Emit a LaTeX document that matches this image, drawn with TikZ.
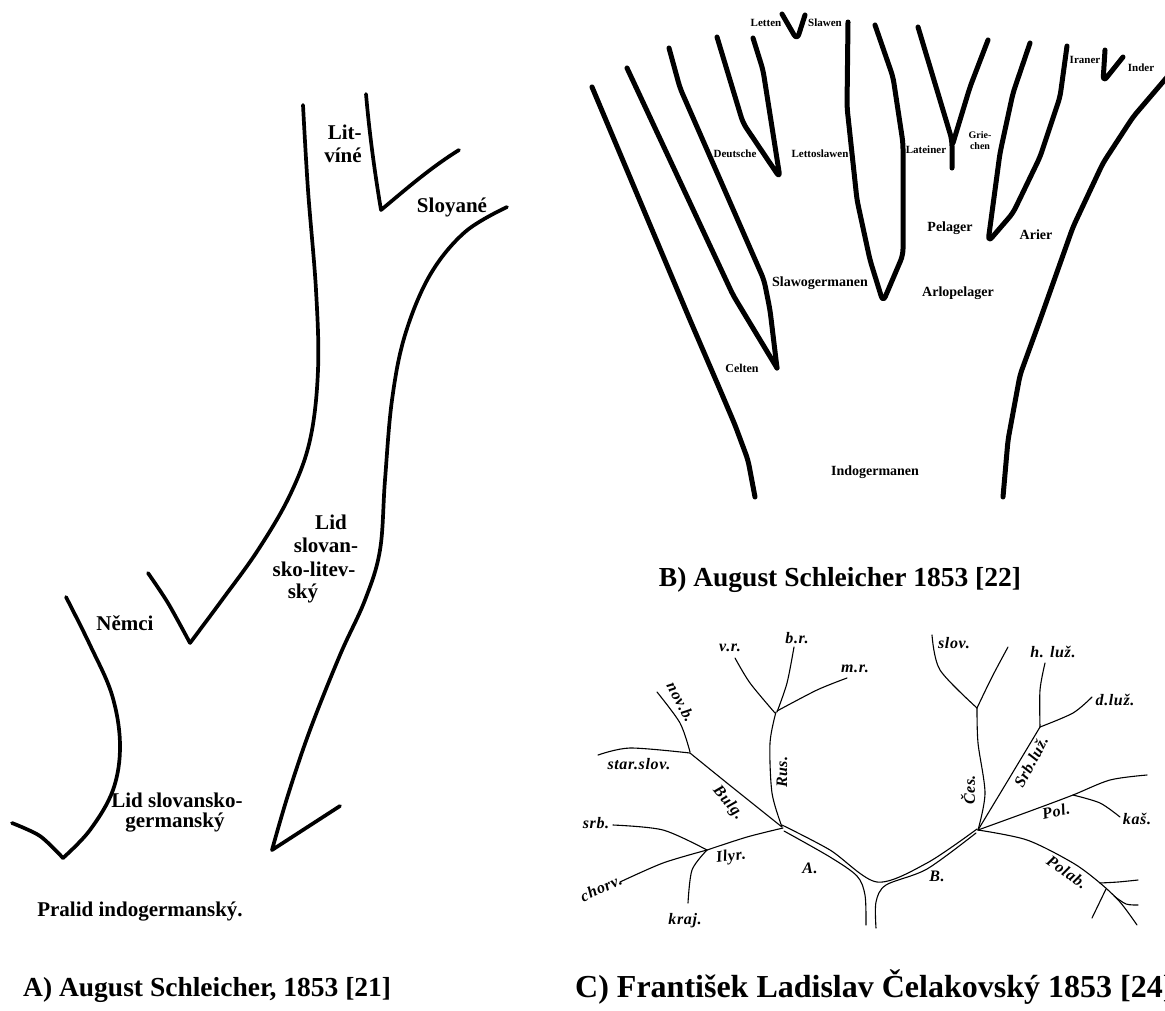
\documentclass[tikz,border=0pt]{standalone}
\usepackage{fontspec}
\setmainfont{Liberation Serif}
\begin{document}
\begin{tikzpicture}[x=1pt,y=-1pt,
  lineA/.style={line width=3.7pt,line cap=round,line join=round},
  lineB/.style={line width=5pt,line cap=round,line join=round,rounded corners=6pt},
  lineC/.style={line width=1.1pt,line cap=round,line join=round},
  labA/.style={font=\fontsize{21}{23}\selectfont\bfseries,inner sep=0pt},
  labB/.style={font=\fontsize{11}{12}\selectfont\bfseries,inner sep=0pt},
  labBb/.style={font=\fontsize{14}{15}\selectfont\bfseries,inner sep=0pt},
  labC/.style={font=\fontsize{16}{17}\selectfont\bfseries\itshape\addfontfeature{LetterSpace=4},inner sep=0pt},
  captext/.style={font=\fontsize{27.5}{30}\selectfont\bfseries,inner sep=0pt}
]
\useasboundingbox (0,0) rectangle (1165,1010);
\clip (0,0) rectangle (1165,1010);
\fill[white] (0,0) rectangle (1165,1010);

% ---------------- Panel A ----------------
\draw[lineA] plot[smooth,tension=0.6] coordinates {(303,105) (308,190) (316,290) (318,370) (310,440) (290,495) (258,550) (222,600) (190,643)};
\draw[lineA] plot[smooth] coordinates {(148,573) (168,603) (190,643)};
\draw[lineA] (366,94) .. controls (370,140) and (376,180) .. (381,210) .. controls (405,190) and (430,168) .. (459,150);
\draw[lineA] plot[smooth,tension=0.6] coordinates {(507,207) (465,232) (430,275) (405,335) (392,400) (385,480) (380,550) (365,600) (340,655) (310,730) (288,795) (272,850)} -- (340,806);
\draw[lineA] plot[smooth,tension=0.6] coordinates {(66,597) (90,645) (112,695) (120,745) (113,790) (90,830) (63,858)};
\draw[lineA] plot[smooth] coordinates {(12,823) (40,836) (63,858)};

\node[labA,align=right] (litvine) at (343,144) {Lit-\\víné};
\node[labA] (slovane) at (452,207) {Sloyané};
\node[labA] (lid1) at (331,522) {Lid};
\node[labA] (lid2) at (326,545) {slovan-};
\node[labA] (lid3) at (314,569) {sko-litev-};
\node[labA] (lid4) at (303,593) {ský};
\node[labA] (nemci) at (125,623) {Němci};
\node[labA] (lidsg1) at (177,800) {Lid slovansko-};
\node[labA] (lidsg2) at (175,823) {germanský};
\node[labA] (pralid) at (140,912) {Pralid indogermanský.};
\node[captext,anchor=base west] (capA) at (23,996) {A) August Schleicher, 1853 [21]};

% ---------------- Panel B ----------------
\draw[lineB] (592,87) -- (690,320) -- (718,385) -- (735,425) -- (748,460) -- (755,497);
\draw[lineB] (627,68) -- (733,295) -- (777,368);
\draw[lineB] (669,48) -- (680,88) -- (764,280) -- (770,310) -- (777,368);
\draw[lineB] (717,37) -- (743,123) -- (780,178) -- (763,70) -- (753,38);
\draw[lineB] (782,14) -- (797,40) -- (805,15);
\draw[lineB] (848,22) -- (847,107) -- (857,200) -- (870,260) -- (883,302) -- (903,255) -- (903,143) -- (893,77) -- (875,25);
\draw[lineB] (918,27) -- (952,140) -- (952,168);
\draw[lineB] (988,40) -- (970,87) -- (953,143);
\draw[lineB] (1030,43) -- (1013,93) -- (1000,153) -- (988,242) -- (1013,213) -- (1040,157) -- (1060,97) -- (1067,46);
\draw[lineB] (1105,50) -- (1103,82) -- (1123,57);
\draw[lineB] (1168,76) -- (1133,117) -- (1103,163) -- (1073,227) -- (1040,320) -- (1020,375) -- (1008,440) -- (1003,497);

\node[labB] (letten) at (766,23) {Letten};
\node[labB] (slawen) at (825,23) {Slawen};
\node[labB] (deutsche) at (735,154) {Deutsche};
\node[labB] (lettoslawen) at (820,154) {Lettoslawen};
\node[labBb] (slawoger) at (820,283) {Slawogermanen};
\node[labB] (lateiner) at (926,150) {Lateiner};
\node[labB,align=center,font=\fontsize{10}{11}\selectfont\bfseries] (griechen) at (980,141) {Grie-\\chen};
\node[labBb] (pelager) at (950,228) {Pelager};
\node[labBb] (arier) at (1036,235) {Arier};
\node[labBb] (ariopelager) at (958,293) {Arlopelager};
\node[labB] (iraner) at (1085,60) {Iraner};
\node[labB] (inder) at (1141,68) {Inder};
\node[labB,font=\fontsize{12}{13}\selectfont\bfseries] (celten) at (742,368) {Celten};
\node[labBb] (indoger) at (875,472) {Indogermanen};
\node[captext,anchor=base] (capB) at (840,586) {B) August Schleicher 1853 [22]};

% ---------------- Panel C ----------------
% Russian
\draw[lineC] plot[smooth] coordinates {(735,658) (750,683) (775,713)};
\draw[lineC] plot[smooth] coordinates {(794,647) (787,683) (777,712)};
\draw[lineC] plot[smooth] coordinates {(847,678) (817,690) (777,711)};
\draw[lineC] plot[smooth] coordinates {(776,712) (770,743) (772,793) (782,827)};
% Bulgarian
\draw[lineC] plot[smooth] coordinates {(657,692) (680,723) (690,752)};
\draw[lineC] plot[smooth] coordinates {(598,755) (630,748) (690,753)};
\draw[lineC] plot[smooth] coordinates {(690,753) (727,783) (782,827)};
% Illyrian
\draw[lineC] plot[smooth] coordinates {(613,825) (663,830) (707,850)};
\draw[lineC] plot[smooth] coordinates {(620,882) (663,863) (707,850)};
\draw[lineC] plot[smooth] coordinates {(707,850) (692,870) (688,903)};
\draw[lineC] plot[smooth] coordinates {(707,850) (747,837) (783,828)};
% double trunk A and B
\draw[lineC] plot[smooth] coordinates {(782,825) (830,850) (877,882) (927,863) (977,829)};
\draw[lineC] plot[smooth] coordinates {(784,831) (830,857) (857,876) (865,895) (866,925)};
\draw[lineC] plot[smooth] coordinates {(976,833) (927,869) (886,885) (876,902) (876,928)};
% Czech
\draw[lineC] plot[smooth] coordinates {(978,830) (985,793) (978,743) (977,708)};
\draw[lineC] plot[smooth] coordinates {(932,635) (940,670) (977,708)};
\draw[lineC] plot[smooth] coordinates {(1008,647) (992,677) (977,708)};
% Sorbian
\draw[lineC] plot[smooth] coordinates {(978,830) (1010,777) (1040,727)};
\draw[lineC] plot[smooth] coordinates {(1045,663) (1040,690) (1040,727)};
\draw[lineC] plot[smooth] coordinates {(1040,727) (1073,713) (1092,697)};
% Polish
\draw[lineC] plot[smooth] coordinates {(978,830) (1033,810) (1073,795) (1110,780) (1147,775)};
\draw[lineC] plot[smooth] coordinates {(1073,795) (1100,803) (1120,817)};
% Polabian
\draw[lineC] plot[smooth] coordinates {(978,830) (1027,840) (1073,863) (1100,883) (1120,902) (1137,925)};
\draw[lineC] plot[smooth] coordinates {(1100,883) (1118,882) (1138,880)};
\draw[lineC] plot[smooth] coordinates {(1114,896) (1126,904) (1138,905)};
\draw[lineC] (1106,889) -- (1092,918);

\node[labC] (vr) at (730,648) {v.r.};
\node[labC] (br) at (797,638) {b.r.};
\node[labC] (mr) at (855,669) {m.r.};
\node[labC,rotate=-62] (novb) at (681,702) {nov.b.};
\node[labC] (starslov) at (639,764) {star.slov.};
\node[labC,rotate=-50] (bulg) at (728,803) {Bulg.};
\node[labC,rotate=90] (rus) at (782,772) {Rus.};
\node[labC] (srb) at (596,823) {srb.};
\node[labC,rotate=25] (chorv) at (601,888) {chorv.};
\node[labC] (kraj) at (685,921) {kraj.};
\node[labC,rotate=8] (ilyr) at (731,857) {Ilyr.};
\node[labC] (cA) at (810,868) {A.};
\node[labC] (cB) at (937,876) {B.};
\node[labC] (slov) at (954,643) {slov.};
\node[labC] (hluz) at (1053,652) {h. luž.};
\node[labC] (dluz) at (1115,700) {d.luž.};
\node[labC,rotate=62] (srbluz) at (1031,762) {Srb.luž.};
\node[labC,rotate=90] (ces) at (968,790) {Čes.};
\node[labC,rotate=12] (pol) at (1056,811) {Pol.};
\node[labC] (kas) at (1137,819) {kaš.};
\node[labC,rotate=-35] (polab) at (1067,872) {Polab.};
\node[captext,anchor=base west,font=\fontsize{32}{34}\selectfont\bfseries] (capC) at (575,997) {C) František Ladislav Čelakovský 1853 [24]};
\end{tikzpicture}
\end{document}
